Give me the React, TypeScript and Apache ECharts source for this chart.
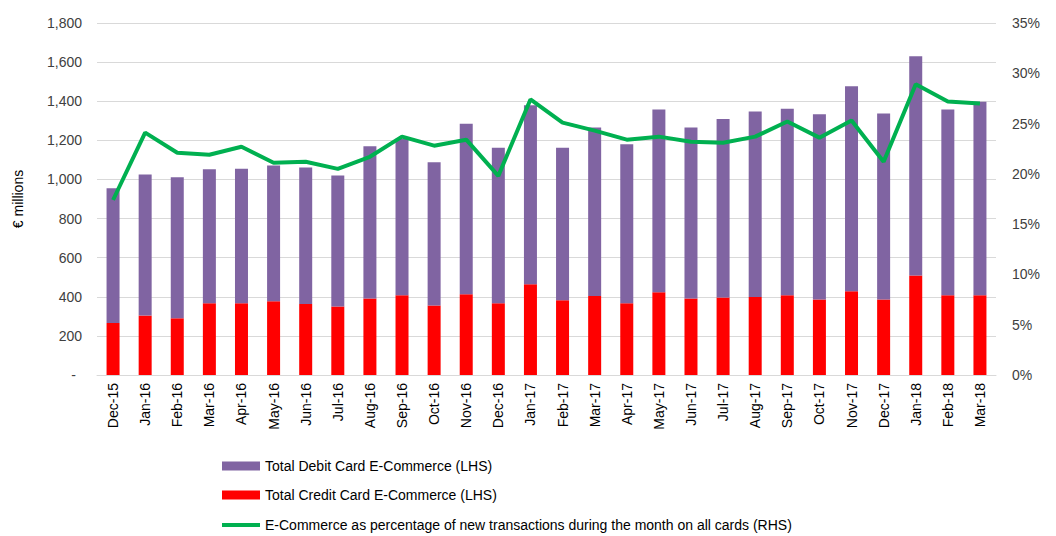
import React, { useEffect, useRef } from "react";
import * as echarts from "echarts";

const categories = [
  "Dec-15", "Jan-16", "Feb-16", "Mar-16", "Apr-16", "May-16", "Jun-16", "Jul-16",
  "Aug-16", "Sep-16", "Oct-16", "Nov-16", "Dec-16", "Jan-17", "Feb-17", "Mar-17",
  "Apr-17", "May-17", "Jun-17", "Jul-17", "Aug-17", "Sep-17", "Oct-17", "Nov-17",
  "Dec-17", "Jan-18", "Feb-18", "Mar-18",
];

const creditValues = [
  266, 304, 290, 367, 367, 377, 363, 350, 391, 408, 355, 413, 367, 464,
  382, 404, 367, 423, 391, 396, 399, 408, 386, 428, 386, 509, 408, 408,
];

const totalValues = [
  955, 1025, 1011, 1052, 1055, 1071, 1061, 1020, 1170, 1208, 1088, 1285, 1162, 1380,
  1162, 1266, 1180, 1358, 1266, 1309, 1348, 1361, 1334, 1476, 1337, 1630, 1358, 1397,
];

const debitValues = totalValues.map((t, i) => t - creditValues[i]);

const pctValues = [
  17.4, 24.1, 22.1, 21.9, 22.7, 21.1, 21.2, 20.5, 21.7, 23.7, 22.8, 23.4, 19.8, 27.4,
  25.1, 24.3, 23.4, 23.7, 23.2, 23.1, 23.7, 25.2, 23.6, 25.3, 21.2, 28.9, 27.2, 27.0,
];

const DEBIT = "Total Debit Card E-Commerce (LHS)";
const CREDIT = "Total Credit Card E-Commerce (LHS)";
const PCT = "E-Commerce as percentage of new transactions during the month on all cards (RHS)";

const FONT = "Liberation Sans, Arial, sans-serif";

const legendBase = {
  orient: "horizontal",
  left: 222,
  padding: 0,
  itemWidth: 38,
  itemGap: 0,
  textStyle: { fontSize: 14, color: "#000", fontFamily: FONT },
};

export default function App() {
  const ref = useRef<HTMLDivElement>(null);

  useEffect(() => {
    if (!ref.current) return;
    const chart = echarts.init(ref.current, undefined, { renderer: "svg" });
    chart.setOption({
      animation: false,
      textStyle: { fontFamily: FONT },
      grid: { left: 97, right: 60, top: 23, bottom: 161 },
      legend: [
        { ...legendBase, top: 459, itemHeight: 9, icon: "rect", data: [DEBIT] },
        { ...legendBase, top: 488, itemHeight: 9, icon: "rect", data: [CREDIT] },
        { ...legendBase, top: 518, itemHeight: 4, icon: "rect", data: [PCT] },
      ],
      xAxis: {
        type: "category",
        data: categories,
        axisLine: { lineStyle: { color: "#d9d9d9", width: 1 } },
        axisTick: { show: false },
        axisLabel: {
          rotate: 90,
          interval: 0,
          fontSize: 14,
          color: "#000",
          margin: 8,
          fontFamily: FONT,
        },
      },
      yAxis: [
        {
          type: "value",
          min: 0,
          max: 1800,
          interval: 200,
          name: "€ millions",
          nameLocation: "middle",
          nameGap: 72,
          nameTextStyle: { fontSize: 14, color: "#000", fontFamily: FONT },
          axisLine: { show: false },
          axisTick: { show: false },
          splitLine: { lineStyle: { color: "#d9d9d9", width: 1 } },
          axisLabel: {
            fontSize: 14,
            color: "#404040",
            margin: 15,
            fontFamily: FONT,
            formatter: (v: number) =>
              v === 0 ? "{d|-}" : v.toLocaleString("en-US"),
            rich: { d: { fontSize: 14, color: "#404040", padding: [0, 6, 0, 0] } },
          },
        },
        {
          type: "value",
          min: 0,
          max: 35,
          interval: 5,
          position: "right",
          axisLine: { show: false },
          axisTick: { show: false },
          splitLine: { show: false },
          axisLabel: {
            fontSize: 14,
            color: "#404040",
            margin: 16,
            fontFamily: FONT,
            formatter: (v: number) => `${v}%`,
          },
        },
      ],
      series: [
        {
          name: CREDIT,
          type: "bar",
          stack: "cards",
          barWidth: 13,
          itemStyle: { color: "#FF0000" },
          data: creditValues,
        },
        {
          name: DEBIT,
          type: "bar",
          stack: "cards",
          barWidth: 13,
          itemStyle: { color: "#8064A2" },
          data: debitValues,
        },
        {
          name: PCT,
          type: "line",
          yAxisIndex: 1,
          symbol: "none",
          showSymbol: false,
          lineStyle: { color: "#00B050", width: 4 },
          itemStyle: { color: "#00B050" },
          data: pctValues,
        },
      ],
    });
    return () => chart.dispose();
  }, []);

  return (
    <div
      ref={ref}
      style={{ position: "absolute", left: 0, top: 0, width: 1056, height: 536 }}
    />
  );
}
